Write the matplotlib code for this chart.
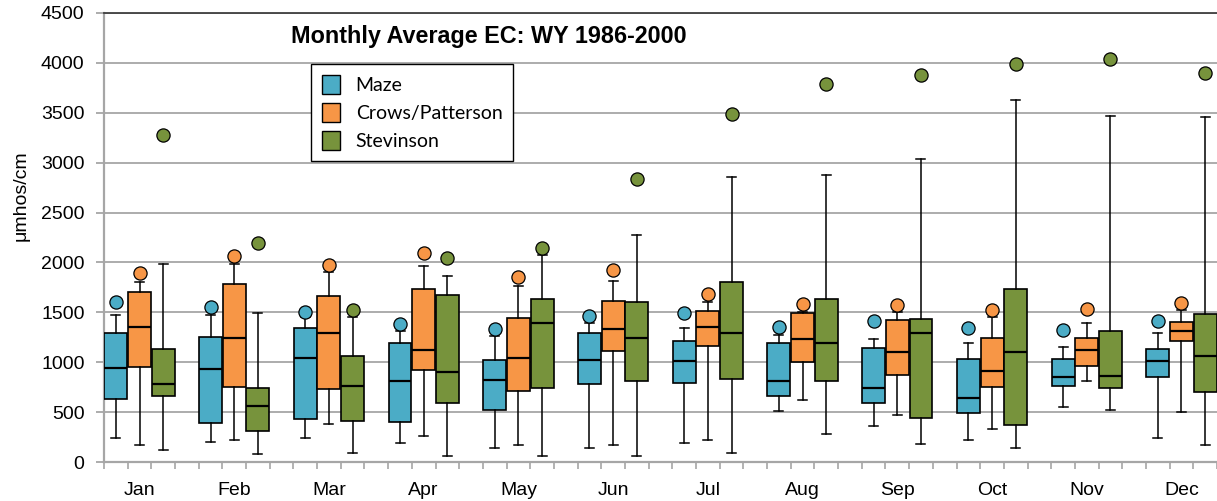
import matplotlib
matplotlib.use("Agg")
import matplotlib.pyplot as plt
from matplotlib.patches import Patch

months = ["Jan", "Feb", "Mar", "Apr", "May", "Jun",
          "Jul", "Aug", "Sep", "Oct", "Nov", "Dec"]
series = ["Maze", "Crows/Patterson", "Stevinson"]
colors = ["#4BACC6", "#F79646", "#77933C"]

# per-station monthly stats (umhos/cm): whisker low, Q1, median, Q3, whisker high, max
maze_lo = [240, 204, 240, 194, 147, 143, 190, 511, 360, 227, 551, 240]
maze_q1 = [634, 394, 430, 407, 527, 788, 798, 667, 597, 491, 764, 858]
maze_med = [941, 931, 1048, 811, 824, 1024, 1011, 811, 741, 644, 858, 1014]
maze_q3 = [1298, 1258, 1341, 1198, 1021, 1298, 1211, 1198, 1141, 1034, 1034, 1138]
maze_hi = [1475, 1475, 1450, 1315, 1268, 1398, 1341, 1271, 1238, 1191, 1151, 1298]
maze_max = [1605, 1558, 1508, 1381, 1335, 1465, 1498, 1358, 1415, 1345, 1321, 1418]

crows_lo = [170, 227, 384, 267, 170, 170, 227, 621, 477, 334, 811, 501]
crows_q1 = [954, 751, 731, 921, 714, 1111, 1165, 1001, 871, 751, 964, 1215]
crows_med = [1358, 1248, 1298, 1128, 1048, 1331, 1355, 1235, 1108, 918, 1121, 1318]
crows_q3 = [1709, 1782, 1665, 1735, 1448, 1615, 1518, 1498, 1425, 1248, 1248, 1408]
crows_hi = [1800, 1982, 1900, 1969, 1769, 1819, 1600, 1508, 1508, 1458, 1392, 1525]
crows_max = [1892, 2066, 1972, 2092, 1859, 1922, 1689, 1585, 1578, 1528, 1532, 1598]

stev_lo = [120, 87, 97, 63, 63, 63, 97, 287, 180, 143, 524, 170]
stev_q1 = [667, 310, 417, 597, 741, 811, 831, 814, 444, 370, 741, 704]
stev_med = [784, 561, 761, 908, 1392, 1248, 1298, 1191, 1298, 1108, 868, 1068]
stev_q3 = [1138, 741, 1068, 1675, 1638, 1602, 1802, 1638, 1438, 1735, 1318, 1485]
stev_hi = [1986, 1498, 1455, 1865, 2076, 2279, 2860, 2877, 3040, 3624, 3467, 3454]
stev_max = [3277, 2199, 1522, 2049, 2142, 2840, 3491, 3791, 3874, 3991, 4038, 3897]

stations = [
    (maze_lo, maze_q1, maze_med, maze_q3, maze_hi, maze_max),
    (crows_lo, crows_q1, crows_med, crows_q3, crows_hi, crows_max),
    (stev_lo, stev_q1, stev_med, stev_q3, stev_hi, stev_max),
]

plt.rcParams["font.family"] = ["Liberation Sans", "DejaVu Sans"]

fig = plt.figure(figsize=(12.17, 5.01), dpi=100)
ax = fig.add_axes([104 / 1217, 38.7 / 501, 1113 / 1217, 449.6 / 501])

for s, (lo, q1, med, q3, hi, mx) in enumerate(stations):
    stats = [dict(whislo=lo[m], q1=q1[m], med=med[m], q3=q3[m], whishi=hi[m],
                  fliers=[mx[m]]) for m in range(12)]
    pos = [4 * m + s for m in range(12)]
    ax.bxp(stats, positions=pos, widths=0.97, patch_artist=True, capwidths=0.38,
           boxprops=dict(facecolor=colors[s], edgecolor="black", linewidth=1.2),
           medianprops=dict(color="black", linewidth=1.6),
           whiskerprops=dict(color="black", linewidth=1.1),
           capprops=dict(color="black", linewidth=1.1),
           flierprops=dict(marker="o", markerfacecolor=colors[s],
                           markeredgecolor="black", markeredgewidth=0.9,
                           markersize=9.5),
           manage_ticks=False, zorder=3)

ax.set_xlim(-0.5, 46.5)
ax.set_ylim(0, 4500)
ax.set_yticks(range(0, 4501, 500))
ax.yaxis.grid(True, color="#A6A6A6", linewidth=1.3, zorder=0)
ax.set_axisbelow(True)
ax.tick_params(axis="y", labelsize=14, length=6, width=1.3, color="#A6A6A6",
               pad=8)

ax.set_xticks([4 * m + 1 for m in range(12)])
ax.set_xticklabels(months)
ax.set_xticks([i - 0.5 for i in range(48)], minor=True)
ax.tick_params(axis="x", which="major", length=0, labelsize=14, pad=14)
ax.tick_params(axis="x", which="minor", length=5, width=1.2, color="#A6A6A6")

for side in ["left", "bottom"]:
    ax.spines[side].set_color("#A6A6A6")
    ax.spines[side].set_linewidth(1.6)
ax.spines["top"].set_color("#404040")
ax.spines["top"].set_linewidth(1.3)
ax.spines["right"].set_visible(False)

ax.set_ylabel("\u03bcmhos/cm", fontsize=14)
ax.yaxis.set_label_coords(-0.067, 0.594)

ax.text(0.1677, 0.947, "Monthly Average EC: WY 1986-2000", transform=ax.transAxes,
        ha="left", va="center", fontsize=16.8, fontweight="bold")

handles = [Patch(facecolor=c, edgecolor="black", linewidth=1.0) for c in colors]
leg = ax.legend(handles, series, loc="upper left", bbox_to_anchor=(0.186, 0.886),
                borderaxespad=0, fancybox=False, framealpha=1, edgecolor="black",
                prop={"family": "Lato", "size": 14}, handlelength=0.95,
                handleheight=1.15, handletextpad=0.8, labelspacing=0.45,
                borderpad=0.55)
leg.get_frame().set_linewidth(1.0)

fig.savefig("out.png", dpi=100)
